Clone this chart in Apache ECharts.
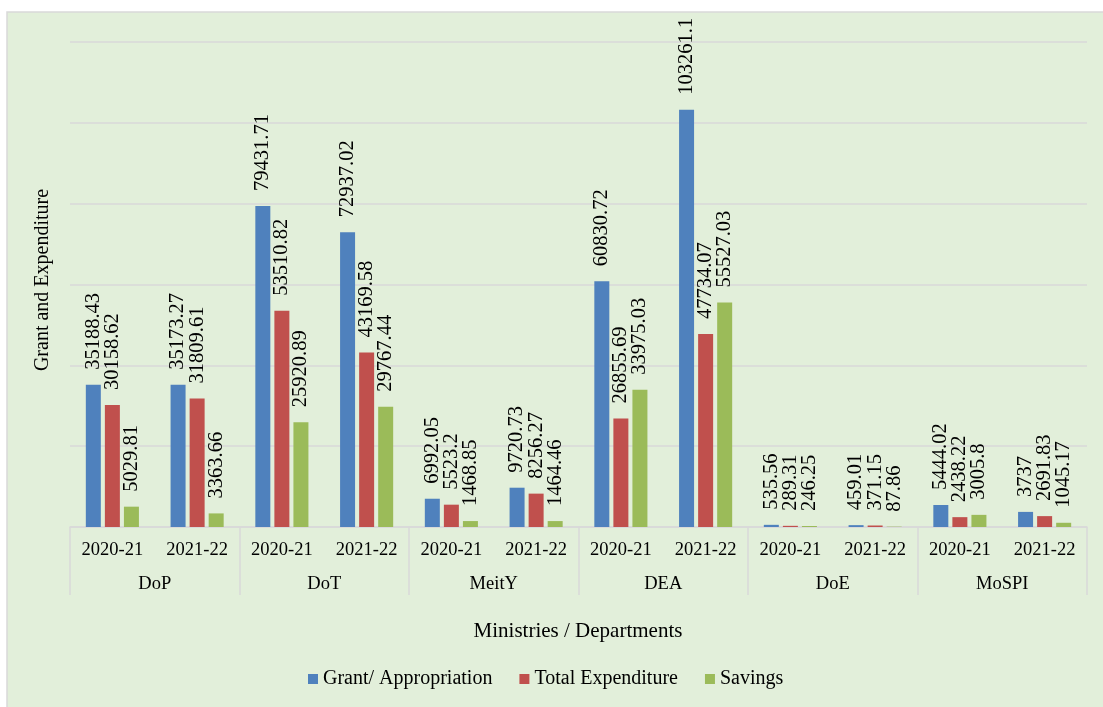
<!DOCTYPE html>
<html>
<head>
<meta charset="utf-8">
<script src="https://cdn.jsdelivr.net/npm/echarts@6/dist/echarts.min.js"></script>
<style>
html,body{margin:0;padding:0;background:#ffffff;}
#chart{width:1103px;height:707px;}
</style>
</head>
<body>
<div id="chart"></div>
<script>
var years = ['2020-21','2021-22','2020-21','2021-22','2020-21','2021-22','2020-21','2021-22','2020-21','2021-22','2020-21','2021-22'];
var ministries = ['DoP','DoT','MeitY','DEA','DoE','MoSPI'];
var grant = [35188.43, 35173.27, 79431.71, 72937.02, 6992.05, 9720.73, 60830.72, 103261.1, 535.56, 459.01, 5444.02, 3737];
var expenditure = [30158.62, 31809.61, 53510.82, 43169.58, 5523.2, 8256.27, 26855.69, 47734.07, 289.31, 371.15, 2438.22, 2691.83];
var savings = [5029.81, 3363.66, 25920.89, 29767.44, 1468.85, 1464.46, 33975.03, 55527.03, 246.25, 87.86, 3005.8, 1045.17];
var seriesNames = ['Grant/ Appropriation','Total Expenditure','Savings'];
var colors = ['#4F81BD','#C0504D','#9BBB59'];

var font = '"Liberation Serif", "Times New Roman", serif';
var chart = echarts.init(document.getElementById('chart'));
var labelCfg = {
  show: true, position: 'top', rotate: 90, align: 'left', verticalAlign: 'middle',
  distance: 15, fontFamily: font, fontSize: 20.5, color: '#000'
};
function mk(name, data, color) {
  return {
    name: name, type: 'bar', xAxisIndex: 0, yAxisIndex: 0, data: data,
    barWidth: 15, barGap: '27%',
    itemStyle: { color: color },
    label: labelCfg
  };
}
chart.setOption({
  animation: false,
  textStyle: { fontFamily: font },
  graphic: [
    { type: 'rect', z: -10, shape: { x: 7, y: 12, width: 1110, height: 710 },
      style: { fill: '#E2EFDA', stroke: '#D9D9D9', lineWidth: 1.5 } },
    { type: 'text', x: 43, y: 280, rotation: Math.PI / 2,
      style: { text: 'Grant and Expenditure', font: '20px "Liberation Serif"', fill: '#000',
               textAlign: 'center', textVerticalAlign: 'middle' } },
    { type: 'text', x: 578, y: 631,
      style: { text: 'Ministries / Departments', font: '21px "Liberation Serif"', fill: '#000',
               textAlign: 'center', textVerticalAlign: 'middle' } }
  ],
  grid: { left: 70, right: 16, top: 42, bottom: 180, containLabel: false },
  legend: {
    data: seriesNames, left: 303, top: 664, icon: 'rect', itemWidth: 10, itemHeight: 10,
    itemGap: 27, textStyle: { fontFamily: font, fontSize: 20, color: '#000' }
  },
  xAxis: [
    { type: 'category', data: years, position: 'bottom',
      axisLine: { show: true, lineStyle: { color: '#D9D9D9', width: 1.5 } },
      axisTick: { show: false },
      axisLabel: { interval: 0, margin: 14, fontFamily: font, fontSize: 18.5, color: '#000' } },
    { type: 'category', data: ministries, position: 'bottom',
      axisLine: { show: false },
      axisTick: { show: true, length: 68, interval: 0, lineStyle: { color: '#D9D9D9', width: 1.5 } },
      axisLabel: { interval: 0, margin: 48, fontFamily: font, fontSize: 18.5, color: '#000' } }
  ],
  yAxis: {
    type: 'value', min: 0, max: 120000, interval: 20000,
    axisLabel: { show: false }, axisLine: { show: false }, axisTick: { show: false },
    splitLine: { lineStyle: { color: '#D9D9D9', width: 1.5 } }
  },
  series: [mk(seriesNames[0], grant, colors[0]), mk(seriesNames[1], expenditure, colors[1]), mk(seriesNames[2], savings, colors[2])]
});
</script>
</body>
</html>
